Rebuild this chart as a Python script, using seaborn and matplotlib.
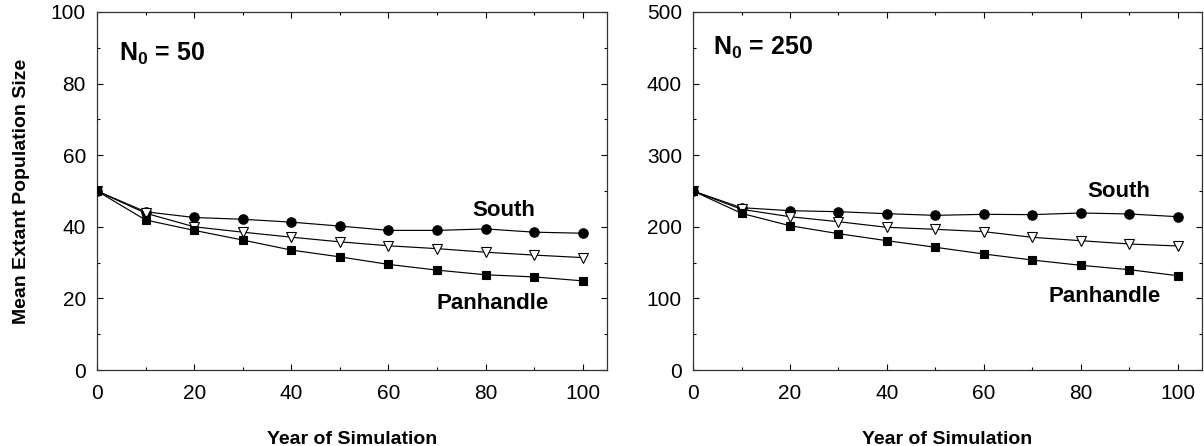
import pandas as pd
import matplotlib

matplotlib.use("Agg")
import matplotlib.pyplot as plt
import seaborn as sns
from matplotlib.ticker import MultipleLocator

# Data
years = [0, 10, 20, 30, 40, 50, 60, 70, 80, 90, 100]

south_50 = [50, 44.2, 42.6, 42.1, 41.3, 40.2, 39.0, 39.0, 39.4, 38.5, 38.2]
middle_50 = [50, 43.8, 40.0, 38.5, 37.1, 35.8, 34.7, 33.9, 32.9, 32.1, 31.4]
panhandle_50 = [50, 41.9, 39.0, 36.3, 33.5, 31.6, 29.5, 27.9, 26.6, 26.0, 24.9]

south_250 = [250, 226.7, 222.5, 221.1, 218.3, 216.0, 217.4, 217.0, 219.3, 217.9, 214.1]
middle_250 = [250, 224.4, 214.1, 207.1, 199.3, 196.5, 193.2, 185.3, 180.6, 176.0, 173.2]
panhandle_250 = [250, 218.8, 201.5, 190.4, 180.6, 171.4, 162.0, 153.6, 146.2, 140.1, 131.7]

panels = [
    {"n0": "50", "ymax": 100, "yminor": 10,
     "series": [south_50, middle_50, panhandle_50],
     "south": (83.7, 44.5), "pan": (81.4, 18.7), "title": (4.5, 86.3)},
    {"n0": "250", "ymax": 500, "yminor": 50,
     "series": [south_250, middle_250, panhandle_250],
     "south": (87.8, 249), "pan": (84.8, 102.4), "title": (4.1, 440)},
]

styles = [
    dict(marker="o", markersize=6.8, markerfacecolor="black"),
    dict(marker="v", markersize=7.0, markerfacecolor="white"),
    dict(marker="s", markersize=5.8, markerfacecolor="black"),
]

sns.set_theme(style="ticks")
plt.rcParams["font.family"] = ["Liberation Sans", "DejaVu Sans"]
plt.rcParams["mathtext.fontset"] = "custom"
plt.rcParams["mathtext.rm"] = "Liberation Sans"
plt.rcParams["mathtext.bf"] = "Liberation Sans:bold"
plt.rcParams["text.color"] = "black"
plt.rcParams["axes.labelcolor"] = "black"

fig = plt.figure(figsize=(12.04, 4.46), dpi=100)
axes = [
    fig.add_axes([0.0806, 0.1704, 0.4236, 0.8027]),
    fig.add_axes([0.5756, 0.1704, 0.4228, 0.8027]),
]

for ax, p in zip(axes, panels):
    for vals, st in zip(p["series"], styles):
        sns.lineplot(
            x=years, y=vals, ax=ax, color="black", linewidth=0.85,
            markeredgecolor="black", markeredgewidth=0.8, zorder=3, **st
        )
    ax.set_xlim(0, 105)
    ax.set_ylim(0, p["ymax"])
    ax.xaxis.set_major_locator(MultipleLocator(20))
    ax.xaxis.set_minor_locator(MultipleLocator(10))
    ax.yaxis.set_major_locator(MultipleLocator(p["ymax"] / 5))
    ax.yaxis.set_minor_locator(MultipleLocator(p["yminor"]))
    ax.tick_params(which="both", direction="in", top=True, right=True,
                   colors="black", labelsize=15)
    ax.tick_params(axis="x", pad=10)
    ax.tick_params(axis="y", pad=8)
    ax.tick_params(which="major", length=4, width=0.8)
    ax.tick_params(which="minor", length=2.5, width=0.8)
    for s in ax.spines.values():
        s.set_linewidth(0.9)
        s.set_color("#333333")
    ax.set_xlabel("Year of Simulation", fontsize=14, fontweight="bold", labelpad=20)
    ax.text(*p["south"], "South", fontsize=16, fontweight="bold",
            ha="center", va="center")
    ax.text(*p["pan"], "Panhandle", fontsize=16, fontweight="bold",
            ha="center", va="center")
    ax.text(*p["title"], r"$\mathbf{N_0}$ = " + p["n0"], fontsize=18,
            fontweight="bold", ha="left", va="baseline")

axes[0].set_ylabel("Mean Extant Population Size", fontsize=14,
                   fontweight="bold", labelpad=15)
axes[1].set_ylabel("")

fig.savefig("out.png", dpi=100)
